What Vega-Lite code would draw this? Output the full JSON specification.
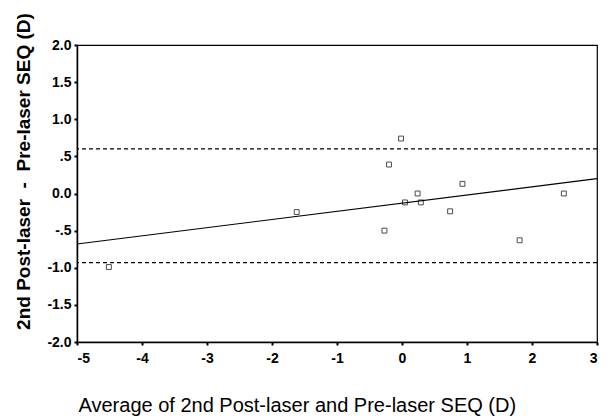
{
  "$schema": "https://vega.github.io/schema/vega-lite/v6.json",
  "autosize": "none",
  "width": 520,
  "height": 297,
  "padding": {"left": 77, "top": 45, "right": 13, "bottom": 78},
  "background": "white",
  "config": {
    "view": {"stroke": "black", "strokeWidth": 1.2},
    "font": "Liberation Sans",
    "axis": {
      "grid": false,
      "domainColor": "black",
      "domainWidth": 1.5,
      "tickColor": "black",
      "tickWidth": 2,
      "tickSize": 3,
      "labelFont": "Liberation Sans",
      "labelFontWeight": "bold",
      "labelFontSize": 14,
      "labelColor": "black",
      "labelOverlap": false,
      "titleColor": "black",
      "titleFont": "Liberation Sans"
    }
  },
  "datasets": {
    "points": [
      {"avg": -4.51, "diff": -0.99},
      {"avg": -1.62, "diff": -0.25},
      {"avg": -0.2, "diff": 0.39},
      {"avg": -0.27, "diff": -0.5},
      {"avg": -0.015, "diff": 0.74},
      {"avg": 0.046, "diff": -0.12},
      {"avg": 0.24, "diff": 0.0},
      {"avg": 0.29, "diff": -0.12},
      {"avg": 0.74, "diff": -0.24},
      {"avg": 0.93, "diff": 0.13},
      {"avg": 1.81, "diff": -0.63},
      {"avg": 2.49, "diff": 0.0}
    ],
    "fit": [
      {"avg": -5, "diff": -0.68},
      {"avg": 3, "diff": 0.2}
    ],
    "limits": [
      {"diff": 0.6},
      {"diff": -0.93}
    ]
  },
  "encoding": {
    "y": {
      "field": "diff", "type": "quantitative",
      "scale": {"domain": [-2, 2], "nice": false, "zero": false},
      "axis": {
        "values": [-2, -1.5, -1, -0.5, 0, 0.5, 1, 1.5, 2],
        "labelExpr": "datum.value == 0.5 ? '.5' : datum.value == -0.5 ? '-.5' : replace(format(datum.value, '.1f'), '\u2212', '-')",
        "labelOverlap": false,
        "labelPadding": 3,
        "title": "2nd Post-laser \u00a0-\u00a0 Pre-laser SEQ (D)",
        "titleFontSize": 19,
        "titleFontWeight": "bold",
        "titleAngle": 270,
        "titleAlign": "center",
        "titleBaseline": "middle",
        "titleX": -54,
        "titleY": 126
      }
    }
  },
  "layer": [
    {
      "data": {"name": "points"},
      "mark": {"type": "point", "shape": "square", "filled": false, "color": "black", "size": 24, "strokeWidth": 1},
      "encoding": {
        "x": {
          "field": "avg", "type": "quantitative",
          "scale": {"domain": [-5, 3], "nice": false, "zero": false},
          "axis": {
            "values": [-5, -4, -3, -2, -1, 0, 1, 2, 3],
            "labelExpr": "'' + datum.value",
            "labelOverlap": false,
            "labelPadding": 6,
            "title": "Average of 2nd Post-laser and Pre-laser SEQ (D)",
            "titleFontSize": 20,
            "titleFontWeight": "normal",
            "titleAnchor": "start",
            "titleAlign": "left",
            "titleBaseline": "middle",
            "titleX": 1,
            "titleY": 63
          }
        }
      }
    },
    {
      "data": {"name": "limits"},
      "mark": {"type": "rule", "color": "black", "strokeWidth": 1.3, "strokeDash": [4, 3]},
      "encoding": {}
    },
    {
      "data": {"name": "fit"},
      "mark": {"type": "line", "color": "black", "strokeWidth": 1.1},
      "encoding": {
        "x": {"field": "avg", "type": "quantitative"}
      }
    }
  ]
}
